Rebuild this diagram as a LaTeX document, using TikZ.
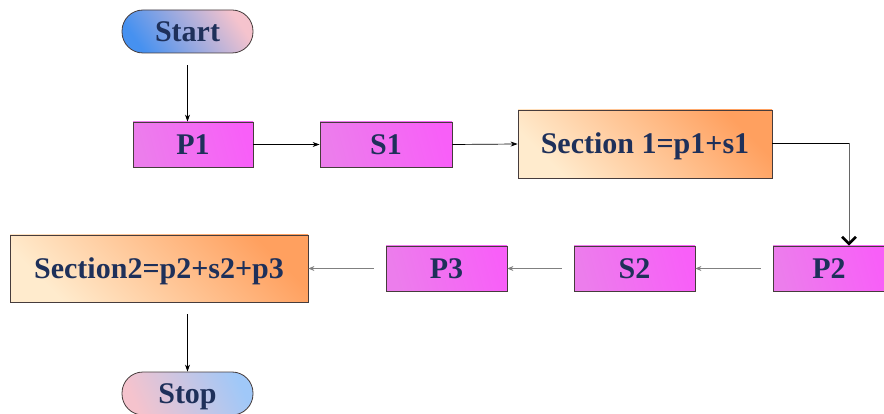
\documentclass[tikz,border=0pt]{standalone}
\usepackage{fontspec}
\setmainfont{Liberation Serif}
\usetikzlibrary{arrows.meta}
\definecolor{txt}{RGB}{30,48,90}
\definecolor{edge}{RGB}{70,60,60}
\definecolor{magA}{RGB}{236,125,236}
\definecolor{magM}{RGB}{252,220,252}
\definecolor{magB}{RGB}{248,95,248}
\definecolor{orA}{RGB}{255,235,205}
\definecolor{orB}{RGB}{255,160,95}
\definecolor{bluA}{RGB}{70,145,240}
\definecolor{pinkA}{RGB}{245,195,205}
\definecolor{bluB}{RGB}{160,200,248}
\tikzset{
  lbl/.style={font=\fontsize{30}{32}\selectfont\bfseries, text=txt, inner sep=0pt, text height=20pt, text depth=0pt, draw=edge, line width=0.8pt},
  pbox/.style={lbl, shading=axis, left color=magA, middle color=magM, right color=magB, shading angle=105},
  sbox/.style={lbl, shading=axis, left color=orA, right color=orB, shading angle=135},
  startpill/.style={lbl, rounded corners=21pt, shading=axis, left color=bluA, right color=pinkA, shading angle=125},
  stoppill/.style={lbl, rounded corners=21pt, shading=axis, left color=pinkA, right color=bluB, shading angle=115},
  blk/.style={draw=black, line width=0.7pt, -{Stealth[length=7pt,width=5pt]}},
  gry/.style={draw=gray, line width=0.6pt, -{Stealth[length=6pt,width=5pt]}, shorten <=12pt},
}
\begin{document}
\begin{tikzpicture}[x=1pt,y=-1pt]
\useasboundingbox (0,0) rectangle (884,414);
\node[startpill, minimum width=131pt, minimum height=43pt] (start) at (187.5,31.5) {Start};
\node[pbox, minimum width=120pt, minimum height=45pt] (p1) at (193,144.5) {P1};
\node[pbox, minimum width=132pt, minimum height=45pt] (s1) at (386,144.5) {S1};
\node[sbox, minimum width=254pt, minimum height=68pt] (sec1) at (645,144) {Section 1=p1+s1};
\node[pbox, minimum width=112pt, minimum height=45pt] (p2) at (829,268.5) {P2};
\node[pbox, minimum width=121pt, minimum height=45pt] (s2) at (634.5,268.5) {S2};
\node[pbox, minimum width=121pt, minimum height=45pt] (p3) at (446.5,268.5) {P3};
\node[sbox, minimum width=298pt, minimum height=67pt] (sec2) at (159,268.5) {Section2=p2+s2+p3};
\node[stoppill, minimum width=131pt, minimum height=43pt] (stop) at (187.5,393.5) {Stop};
\coordinate (corner) at (849,143);
\draw[blk, shorten <=12pt] (start.south) -- (start.south |- p1.north);
\draw[blk] (p1.east) -- (s1.west);
\draw[blk] (s1.east) -- (sec1.west);
\draw[black, line width=0.7pt] (sec1.east |- corner) -- (corner);
\draw[gray!80!black, line width=0.8pt, -{Straight Barb[length=7pt,width=14pt,line width=2.6pt,color=black]}] (corner) -- (corner |- p2.north);
\draw[gry] (p2.west) -- (s2.east);
\draw[gry] (s2.west) -- (p3.east);
\draw[gry] (p3.west) -- (sec2.east);
\draw[blk, shorten <=12pt] (sec2.south -| stop.north) -- (stop.north);
\end{tikzpicture}
\end{document}
